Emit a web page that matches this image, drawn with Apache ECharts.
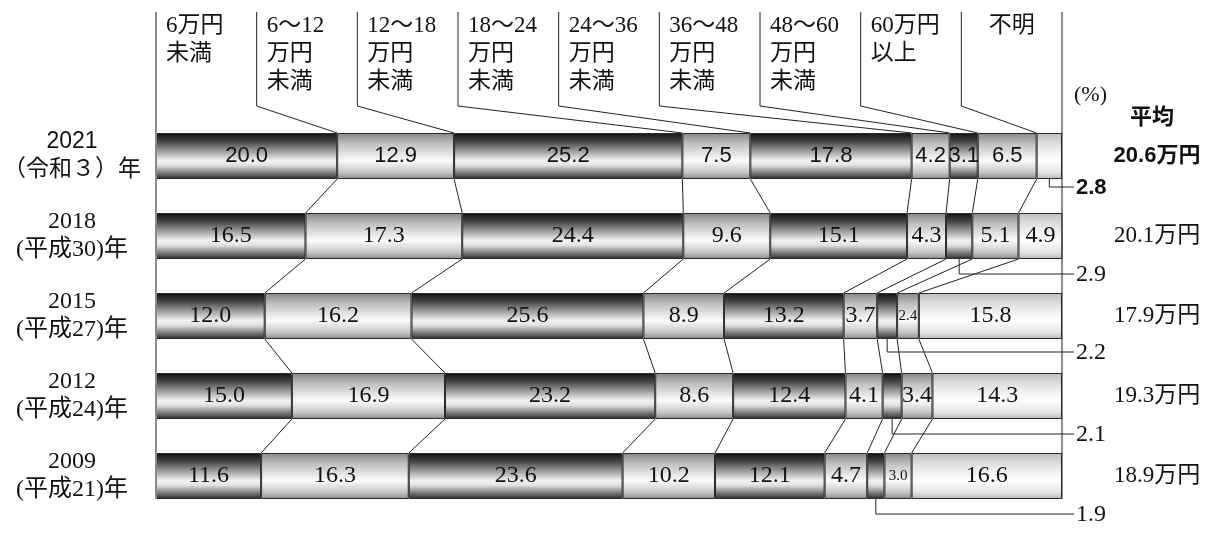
<!DOCTYPE html>
<html>
<head>
<meta charset="utf-8">
<script src="https://cdn.jsdelivr.net/npm/echarts@6/dist/echarts.min.js"></script>
<style>
  html, body { margin: 0; background: #fff; }
  #chart { width: 1212px; height: 536px; }
</style>
</head>
<body>
<div id="chart"></div>
<script>
// rows (top to bottom) and the nine income bands
const rowLabels = ['2021\n（令和３）年', '2018\n(平成30)年', '2015\n(平成27)年', '2012\n(平成24)年', '2009\n(平成21)年']
const categories = ['6万円\n未満', '6～12\n万円\n未満', '12～18\n万円\n未満', '18～24\n万円\n未満', '24～36\n万円\n未満',
    '36～48\n万円\n未満', '48～60\n万円\n未満', '60万円\n以上', '不明']
const averages = ['20.6万円', '20.1万円', '17.9万円', '19.3万円', '18.9万円']

const share2021 = [20.0, 12.9, 25.2, 7.5, 17.8, 4.2, 3.1, 6.5, 2.8]
const share2018 = [16.5, 17.3, 24.4, 9.6, 15.1, 4.3, 2.9, 5.1, 4.9]
const share2015 = [12.0, 16.2, 25.6, 8.9, 13.2, 3.7, 2.2, 2.4, 15.8]
const share2012 = [15.0, 16.9, 23.2, 8.6, 12.4, 4.1, 2.1, 3.4, 14.3]
const share2009 = [11.6, 16.3, 23.6, 10.2, 12.1, 4.7, 1.9, 3.0, 16.6]
const shares = [share2021, share2018, share2015, share2012, share2009]

// cells whose value is written outside the bar, with a leader line
const outsideLabels = [[0, 8], [1, 6], [2, 6], [3, 6], [4, 6]]
// cells with squeezed text
const smallTextLabels = [[2, 7], [4, 7]]

// layout
const BAR_H = 46
const HEAD_TOP = 12
const HEAD_KINK = 106
const leaderDrops = [8, 15, 13, 15, 15]
const LEADER_OUT = 12

const SANS = '"Liberation Sans", "Noto Sans CJK JP", sans-serif'
const SERIF = '"Liberation Serif", "Noto Sans CJK JP", serif'

let chart = echarts.init(document.querySelector('#chart'))

function cum(row, k) {
    let s = 0
    for (let i = 0; i < k; i++) s += shares[row][i]
    return s
}

function inList(list, r, k) {
    return list.some(c => c[0] === r && c[1] === k)
}

const darkFill = new echarts.graphic.LinearGradient(0, 0, 0, 1, [
    {offset: 0, color: '#111'},
    {offset: 0.18, color: '#444'},
    {offset: 0.6, color: '#f2f2f2'},
    {offset: 0.7, color: '#e2e2e2'},
    {offset: 0.9, color: '#666'},
    {offset: 1, color: '#2a2a2a'}
])
const lightFill = new echarts.graphic.LinearGradient(0, 0, 0, 1, [
    {offset: 0, color: '#888'},
    {offset: 0.25, color: '#c2c2c2'},
    {offset: 0.6, color: '#fbfbfb'},
    {offset: 0.85, color: '#c8c8c8'},
    {offset: 1, color: '#8a8a8a'}
])
const paleFill = new echarts.graphic.LinearGradient(0, 0, 0, 1, [
    {offset: 0, color: '#bdbdbd'},
    {offset: 0.3, color: '#e6e6e6'},
    {offset: 0.6, color: '#ffffff'},
    {offset: 0.85, color: '#e4e4e4'},
    {offset: 1, color: '#b8b8b8'}
])

const barSeries = categories.map((name, k) => ({
    type: 'bar',
    name: name,
    stack: 'all',
    barWidth: BAR_H,
    data: shares.map(r => r[k]),
    itemStyle: {
        color: k === 8 ? paleFill : (k % 2 ? lightFill : darkFill),
        borderColor: '#2a2a2a',
        borderWidth: 1
    },
    label: {
        show: true,
        position: 'inside',
        formatter: p => {
            const r = p.dataIndex
            if (inList(outsideLabels, r, k)) return ''
            const st = r === 0 ? 's' : (inList(smallTextLabels, r, k) ? 'n' : 'r')
            return '{' + st + '|' + shares[r][k].toFixed(1) + '}'
        },
        rich: {
            s: {fontFamily: SANS, fontSize: 22, color: '#111'},
            r: {fontFamily: SERIF, fontSize: 24, color: '#111'},
            n: {fontFamily: SERIF, fontSize: 15, color: '#111'}
        }
    }
}))

// lines joining the band boundaries of neighbouring rows
const connectorSeries = {
    type: 'custom',
    data: [[0, 0], [0, 1], [0, 2], [0, 3]],
    z: 3,
    renderItem: function (params, api) {
        const row = params.dataIndex
        const y0 = api.coord([0, row])[1] + BAR_H / 2
        const y1 = api.coord([0, row + 1])[1] - BAR_H / 2
        const children = []
        for (let k = 1; k < categories.length; k++) {
            const x0 = api.coord([cum(row, k), row])[0]
            const x1 = api.coord([cum(row + 1, k), row + 1])[0]
            children.push({
                type: 'line',
                shape: {x1: x0, y1: y0, x2: x1, y2: y1},
                style: {stroke: '#222', lineWidth: 1}
            })
        }
        return {type: 'group', children: children}
    }
}

// column headings and their pointer lines to the 2021 bar
const headerSeries = {
    type: 'custom',
    data: categories.map((c, k) => [k, 0]),
    z: 3,
    renderItem: function (params, api) {
        const k = params.dataIndex
        const n = categories.length
        const colX = api.coord([k * 100 / n, 0])[0]
        const colW = api.coord([100 / n, 0])[0] - api.coord([0, 0])[0]
        const barTop = api.coord([0, 0])[1] - BAR_H / 2
        const lastBottom = api.coord([0, shares.length - 1])[1] + BAR_H / 2
        const children = []
        if (k === 0) {
            children.push({
                type: 'line',
                shape: {x1: colX, y1: HEAD_TOP, x2: colX, y2: lastBottom},
                style: {stroke: '#8a8a8a', lineWidth: 2}
            })
        } else {
            const bx = api.coord([cum(0, k), 0])[0]
            children.push({
                type: 'polyline',
                shape: {points: [[colX, HEAD_TOP], [colX, HEAD_KINK], [bx, barTop]]},
                style: {stroke: '#222', lineWidth: 1, fill: null}
            })
        }
        if (k === n - 1) {
            const rx = api.coord([100, 0])[0]
            children.push({
                type: 'line',
                shape: {x1: rx, y1: HEAD_TOP, x2: rx, y2: lastBottom},
                style: {stroke: '#222', lineWidth: 1}
            })
        }
        children.push({
            type: 'text',
            style: {
                text: categories[k],
                x: k === n - 1 ? colX + colW / 2 : colX + 10,
                y: HEAD_TOP,
                align: k === n - 1 ? 'center' : 'left',
                verticalAlign: 'top',
                fontFamily: SERIF,
                fontSize: 23,
                lineHeight: 28,
                fill: '#111'
            }
        })
        return {type: 'group', children: children}
    }
}

// small values written outside the bars
const leaderSeries = {
    type: 'custom',
    data: outsideLabels.map(c => [shares[c[0]][c[1]], c[0]]),
    z: 3,
    renderItem: function (params, api) {
        const i = params.dataIndex
        const r = outsideLabels[i][0], k = outsideLabels[i][1]
        const mid = cum(r, k) + shares[r][k] / 2
        const cx = api.coord([mid, r])[0]
        const yb = api.coord([mid, r])[1] + BAR_H / 2
        const yl = yb + leaderDrops[i]
        const xe = api.coord([100, r])[0] + LEADER_OUT
        return {
            type: 'group',
            children: [{
                type: 'polyline',
                shape: {points: [[cx, yb], [cx, yl], [xe, yl]]},
                style: {stroke: '#222', lineWidth: 1, fill: null}
            }, {
                type: 'text',
                style: {
                    text: shares[r][k].toFixed(1),
                    x: xe + 2,
                    y: yl + 1,
                    align: 'left',
                    verticalAlign: 'middle',
                    fontFamily: r === 0 ? SANS : SERIF,
                    fontSize: r === 0 ? 22 : 24,
                    fontWeight: r === 0 ? 'bold' : 'normal',
                    fill: '#111'
                }
            }]
        }
    }
}

chart.setOption({
    animation: false,
    backgroundColor: '#fff',
    grid: {left: 156, right: 150, top: 116, bottom: 20},
    xAxis: {
        type: 'value',
        min: 0,
        max: 100,
        show: false
    },
    yAxis: [{
        type: 'category',
        data: rowLabels,
        inverse: true,
        axisLine: {show: false},
        axisTick: {show: false},
        axisLabel: {
            margin: 84,
            align: 'center',
            formatter: (v, i) => v.split('\n').map(s => '{' + (i === 0 ? 's' : 'r') + '|' + s + '}').join('\n'),
            rich: {
                s: {fontFamily: SANS, fontSize: 23, lineHeight: 28, color: '#111'},
                r: {fontFamily: SERIF, fontSize: 24, lineHeight: 28, color: '#111'}
            }
        }
    }, {
        type: 'category',
        data: averages,
        inverse: true,
        position: 'right',
        axisLine: {show: false},
        axisTick: {show: false},
        axisLabel: {
            margin: 95,
            align: 'center',
            formatter: (v, i) => '{' + (i === 0 ? 's' : 'r') + '|' + v + '}',
            rich: {
                s: {fontFamily: SANS, fontSize: 22, fontWeight: 'bold', color: '#111'},
                r: {fontFamily: SERIF, fontSize: 23, color: '#111'}
            }
        }
    }],
    graphic: [{
        type: 'text',
        left: 1074,
        top: 84,
        style: {text: '(%)', fontFamily: SERIF, fontSize: 22, fill: '#111'}
    }, {
        type: 'text',
        left: 1130,
        top: 107,
        style: {text: '平均', fontFamily: SANS, fontSize: 22, fontWeight: 'bold', fill: '#111'}
    }],
    series: barSeries.concat([connectorSeries, headerSeries, leaderSeries])
})
</script>
</body>
</html>
